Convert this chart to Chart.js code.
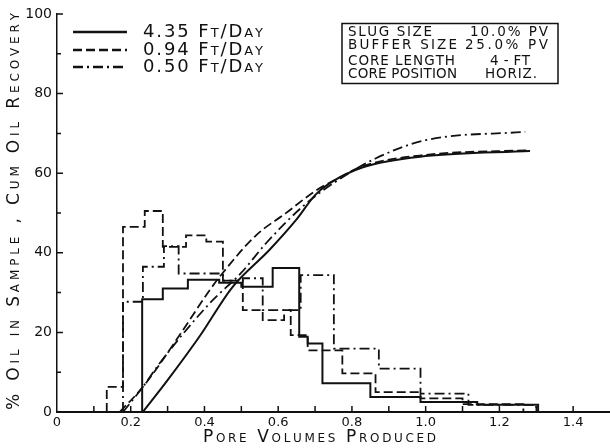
<!DOCTYPE html>
<html>
<head>
<meta charset="utf-8">
<script src="https://cdn.jsdelivr.net/npm/chart.js@4.4.1/dist/chart.umd.min.js"></script>
<style>
  html, body { margin: 0; padding: 0; background: #fff; }
</style>
</head>
<body>
<canvas id="chart" width="610" height="448"></canvas>
<script>
// flow rates (legend)
const rateLabels = ['4.35 Ft/Day', '0.94 Ft/Day', '0.50 Ft/Day'];

// oil in sample (%), stepped: start of each sample (pore volumes) and its height
const sampleX435 = [0.231, 0.287, 0.355, 0.44, 0.50, 0.585, 0.657, 0.68, 0.72, 0.85, 0.986, 1.14, 1.305];
const sampleY435 = [28.3, 31, 33.2, 32.5, 31.5, 36.2, 18.9, 17.2, 7.2, 3.8, 2.5, 1.8, 0];
const sampleX094 = [0.135, 0.179, 0.238, 0.287, 0.35, 0.405, 0.45, 0.504, 0.558, 0.616, 0.634, 0.68, 0.774, 0.864, 0.986, 1.1, 1.265];
const sampleY094 = [6.3, 46.5, 50.5, 41.5, 44.4, 42.8, 33, 25.6, 23.1, 25.6, 19.3, 15.5, 9.7, 5.0, 3.4, 2.0, 0];
const sampleX050 = [0.179, 0.233, 0.29, 0.33, 0.45, 0.504, 0.558, 0.661, 0.751, 0.873, 0.986, 1.116, 1.3];
const sampleY050 = [27.7, 36.5, 41.7, 34.8, 33, 33.6, 25.6, 34.4, 15.9, 10.9, 4.6, 1.8, 0];

// cumulative oil recovery (%)
const cumX435 = [0.233, 0.30, 0.386, 0.476, 0.576, 0.648, 0.70, 0.74, 0.83, 1.0, 1.283];
const cumY435 = [0, 8, 18.9, 31.4, 40.7, 48.2, 54.5, 57.5, 61.5, 64.3, 65.6];
const cumX094 = [0.17, 0.233, 0.323, 0.414, 0.45, 0.54, 0.62, 0.70, 0.76, 0.83, 1.0, 1.283];
const cumY094 = [0, 6.3, 18, 30.6, 35, 44.4, 49.9, 55.5, 58.6, 61.8, 64.6, 65.8];
const cumX050 = [0.179, 0.233, 0.278, 0.414, 0.50, 0.567, 0.666, 0.75, 0.864, 1.0, 1.27];
const cumY050 = [0, 6.3, 12.2, 27.3, 35, 42.4, 51.6, 57.5, 63.7, 68.3, 70.4];

// axis ticks
const xTicks = [0, 0.2, 0.4, 0.6, 0.8, 1.0, 1.2, 1.4];
const yTicks = [0, 20, 40, 60, 80, 100];

// test conditions box
const testParams = ['SLUG SIZE', 'BUFFER SIZE', 'CORE LENGTH', 'CORE POSITION'];
const testValues = ['10.0% PV', '25.0% PV', '4 - FT', 'HORIZ.'];

const ink = '#111';
const family = '"DejaVu Sans", sans-serif';
const dashes = [[], [9, 4], [10, 4, 2, 4]];

function curve(xs, ys) {
    return xs.map((x, i) => ({ x, y: ys[i] }));
}

// sample histograms: rise from the axis, then flat to the next sample (stepped 'before')
function stepsToNext(xs, ys) {
    const pts = [{ x: xs[0], y: 0 }, { x: xs[0], y: ys[0] }];
    for (let i = 1; i < xs.length; i++) {
        pts.push({ x: xs[i], y: ys[i] });
    }
    return pts;
}

function lineSet(data, i, stepped) {
    return {
        data,
        borderColor: ink,
        borderWidth: i === 0 ? 2 : 1.8,
        borderDash: dashes[i],
        pointRadius: 0,
        fill: false,
        stepped: stepped ? 'before' : false,
        cubicInterpolationMode: stepped ? 'default' : 'monotone',
    };
}

// letters spread evenly so the text fills a given width
function spaced(ctx, text, x, y, width) {
    const chars = [...text];
    const ws = chars.map(c => ctx.measureText(c).width);
    const total = ws.reduce((s, w) => s + w, 0);
    const gap = chars.length > 1 ? (width - total) / (chars.length - 1) : 0;
    let cx = x;
    chars.forEach((c, i) => {
        ctx.fillText(c, cx, y);
        cx += ws[i] + gap;
    });
}

const decor = {
    id: 'decor',
    afterDraw(chart) {
        const { ctx, chartArea: a, scales: { x, y } } = chart;
        ctx.save();
        ctx.strokeStyle = ink;
        ctx.fillStyle = ink;
        ctx.lineWidth = 1.5;

        // inward tick marks
        ctx.beginPath();
        for (let v = 10; v <= 100; v += 10) {
            const py = y.getPixelForValue(v);
            ctx.moveTo(a.left, py);
            ctx.lineTo(a.left + (v % 20 === 0 ? 6 : 4), py);
        }
        for (let k = 1; k <= 14; k++) {
            const px = x.getPixelForValue(k / 10);
            ctx.moveTo(px, a.bottom);
            ctx.lineTo(px, a.bottom - 6);
        }
        ctx.stroke();

        ctx.textAlign = 'left';
        ctx.textBaseline = 'middle';

        // axis titles
        ctx.font = 'small-caps 17px ' + family;
        spaced(ctx, 'Pore Volumes Produced', 203, 438, 233);
        ctx.save();
        ctx.translate(15, 410);
        ctx.rotate(-Math.PI / 2);
        spaced(ctx, '% Oil in Sample , Cum Oil Recovery', 0, 0, 397);
        ctx.restore();

        // legend
        const rows = [32, 50, 67];
        rows.forEach((ry, i) => {
            ctx.save();
            ctx.lineWidth = 2.4;
            ctx.setLineDash(dashes[i]);
            ctx.beginPath();
            ctx.moveTo(73, ry);
            ctx.lineTo(127, ry);
            ctx.stroke();
            ctx.restore();
            ctx.font = 'small-caps 18px ' + family;
            spaced(ctx, rateLabels[i], 143, ry, 120);
        });

        // test conditions box
        ctx.lineWidth = 1.5;
        ctx.strokeRect(342, 23.5, 216, 60);
        ctx.font = '13.5px ' + family;
        const boxRows = [32.5, 45.5, 61.5, 74.5];
        const paramW = [84, 109, 107, 109];
        const valX = [470, 465, 490, 485];
        const valW = [78, 83, 40, 52];
        boxRows.forEach((ry, i) => {
            spaced(ctx, testParams[i], 348, ry, paramW[i]);
            spaced(ctx, testValues[i], valX[i], ry, valW[i]);
        });
        ctx.restore();
    }
};

const datasets = [
    lineSet(stepsToNext(sampleX435, sampleY435), 0, true),
    lineSet(stepsToNext(sampleX094, sampleY094), 1, true),
    lineSet(stepsToNext(sampleX050, sampleY050), 2, true),
    lineSet(curve(cumX435, cumY435), 0, false),
    lineSet(curve(cumX094, cumY094), 1, false),
    lineSet(curve(cumX050, cumY050), 2, false),
];

new Chart(document.getElementById('chart'), {
    type: 'line',
    data: { datasets },
    options: {
        responsive: false,
        animation: false,
        layout: { padding: { top: 14, left: 0, right: 0, bottom: 0 } },
        plugins: {
            legend: { display: false },
            tooltip: { enabled: false },
        },
        scales: {
            x: {
                type: 'linear',
                min: 0,
                max: 1.5,
                afterBuildTicks: s => { s.ticks = xTicks.map(value => ({ value })); },
                afterFit: s => { s.height = 36; },
                grid: { display: false, drawTicks: false },
                border: { display: true, color: ink, width: 2 },
                ticks: {
                    color: ink,
                    font: { family, size: 13 },
                    padding: 3,
                    maxRotation: 0,
                    autoSkip: false,
                    callback: v => (v === 0 ? '0' : v.toFixed(1)),
                },
            },
            y: {
                min: 0,
                max: 100,
                afterBuildTicks: s => { s.ticks = yTicks.map(value => ({ value })); },
                afterFit: s => { s.width = 57; },
                grid: { display: false, drawTicks: false },
                border: { display: true, color: ink, width: 1.5 },
                ticks: {
                    color: ink,
                    font: { family, size: 14 },
                    padding: 5,
                },
            },
        },
    },
    plugins: [decor],
});
</script>
</body>
</html>
